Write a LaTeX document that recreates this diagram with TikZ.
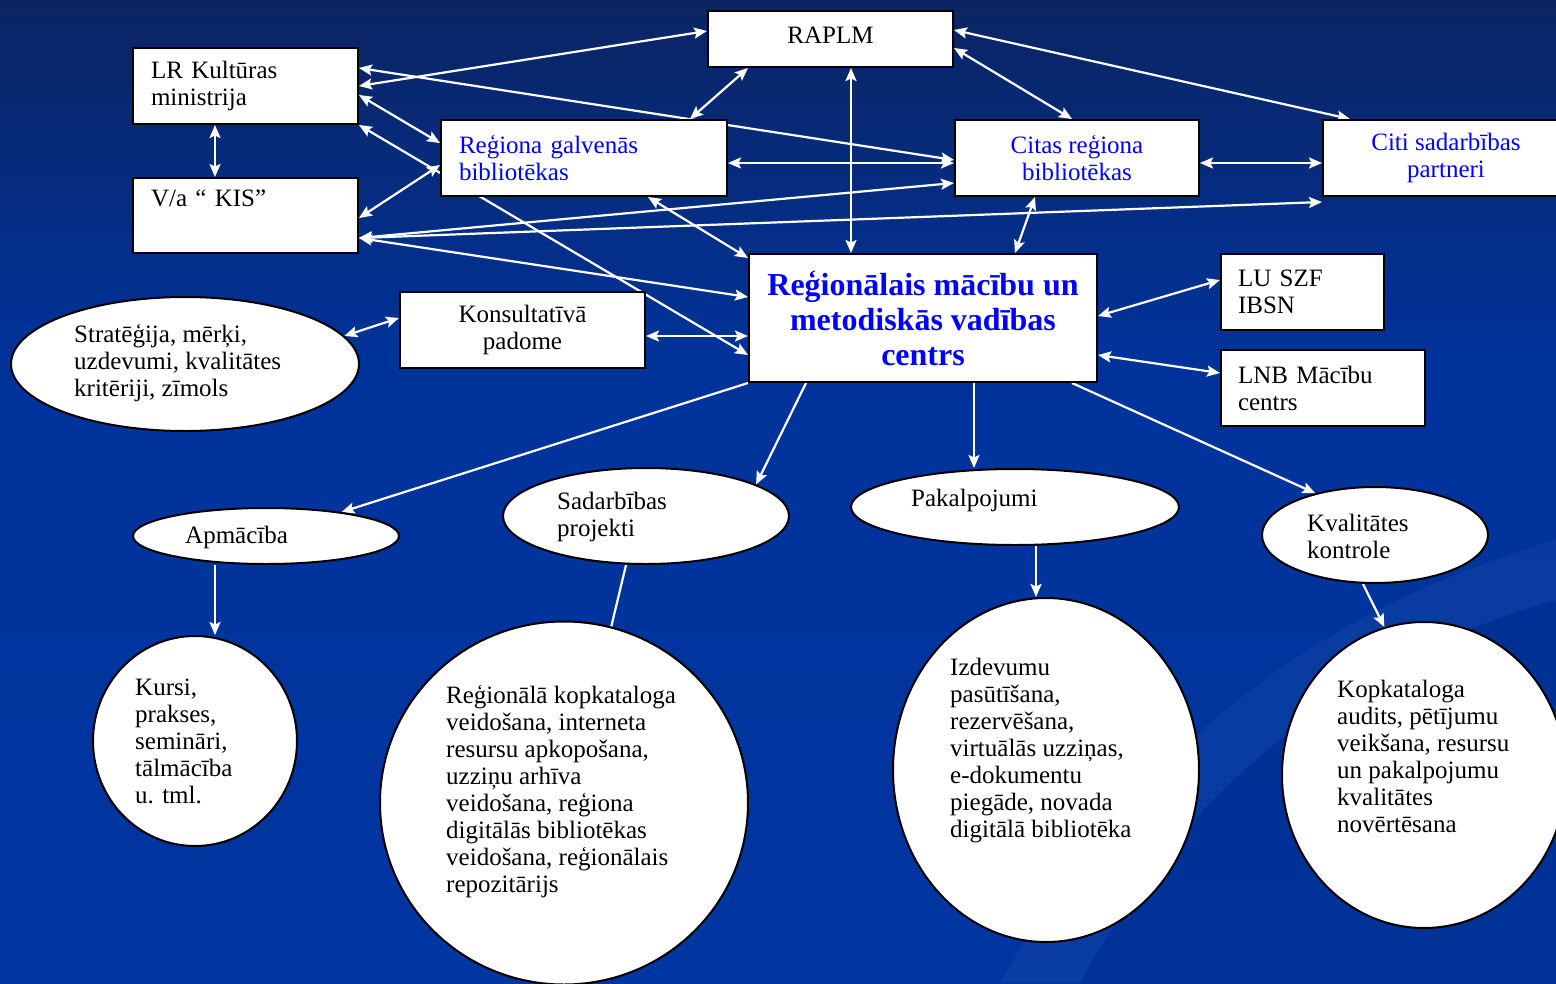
\documentclass[tikz,border=0pt]{standalone}
\usepackage{fontspec}
\setmainfont{Liberation Serif}
\usetikzlibrary{shapes.geometric,arrows.meta,calc}
\pgfdeclarelayer{back}
\pgfdeclarelayer{edges}
\pgfsetlayers{back,edges,main}
\definecolor{bgTop}{HTML}{0B2463}
\definecolor{bgMid}{HTML}{00339A}
\definecolor{bgBot}{HTML}{0036A2}
\definecolor{txtblue}{HTML}{0000FF}
\newcommand\myNorm{\fontsize{25}{27}\selectfont}
\newcommand\myBig{\fontsize{32}{35}\selectfont\bfseries}
\tikzset{
  box/.style={rectangle, draw=black, line width=2pt, fill=white, inner sep=0pt, font=\myNorm},
  lbox/.style={box, align=left, inner xsep=18pt},
  cbox/.style={box, align=center},
  oval/.style={ellipse, draw=black, line width=2pt, fill=white, inner sep=0pt},
  txt/.style={inner sep=0pt, align=left, anchor=west, font=\myNorm},
  con/.style={draw=white, line width=2.2pt},
  >={Stealth[length=13pt,width=11pt,inset=2.5pt]}
}
\begin{document}
\begin{tikzpicture}[x=1pt,y=-1pt]
\useasboundingbox (0,0) rectangle (1556,983);
\begin{pgfonlayer}{back}
  \shade[top color=bgTop, bottom color=bgMid] (0,0) rectangle (1556,360);
  \shade[top color=bgMid, bottom color=bgBot] (0,360) rectangle (1556,983);
  \fill[white, opacity=0.035] (1000,983) .. controls (1150,720) and (1350,600) .. (1556,540)
     -- (1556,600) .. controls (1380,650) and (1200,760) .. (1080,983) -- cycle;
  \fill[black, opacity=0.06] (1080,983) .. controls (1200,760) and (1380,650) .. (1556,600)
     -- (1556,983) -- cycle;
\end{pgfonlayer}

% rectangles
\node[cbox, minimum width=245pt, minimum height=56pt] (raplm) at (830.5,39) {\raisebox{8pt}{RAPLM}};
\node[lbox, minimum width=225pt, minimum height=76pt, text width=189pt] (lr) at (245.5,86) {LR Kultūras\\ministrija};
\node[lbox, minimum width=225pt, minimum height=75pt, text width=189pt] (kis) at (245.5,215.5) {V/a “ KIS”\\\strut};
\node[lbox, minimum width=286pt, minimum height=76pt, text width=250pt, text=txtblue] (rgb) at (584,158) {Reģiona galvenās\\bibliotēkas};
\node[cbox, minimum width=244pt, minimum height=76pt, text=txtblue] (citas) at (1077,158) {Citas reģiona\\bibliotēkas};
\node[cbox, minimum width=246pt, minimum height=76pt, text=txtblue] (citi) at (1446,158) {Citi sadarbības\\partneri};
\node[cbox, minimum width=348pt, minimum height=128pt, text=txtblue, font=\myBig] (rc) at (923,318) {Reģionālais mācību un\\metodiskās vadības\\centrs};
\node[lbox, minimum width=163pt, minimum height=76pt, text width=129pt, inner xsep=17pt] (lu) at (1302.5,292) {LU SZF\\IBSN};
\node[lbox, minimum width=204pt, minimum height=76pt, text width=170pt, inner xsep=17pt] (lnb) at (1323,388) {LNB Mācību\\centrs};
\node[cbox, minimum width=245pt, minimum height=76pt] (kons) at (522.5,330) {Konsultatīvā\\padome};

% ellipses
\node[oval, minimum width=348pt, minimum height=134pt] (strat) at (185,364) {};
\node[txt] (stratT) at (74,363) {Stratēģija, mērķi,\\uzdevumi, kvalitātes\\kritēriji, zīmols};
\node[oval, minimum width=266pt, minimum height=56pt] (apm) at (266,536) {};
\node[txt] (apmT) at (185,537) {Apmācība};
\node[oval, minimum width=286pt, minimum height=96pt] (sad) at (646,516) {};
\node[txt] (sadT) at (557,517) {Sadarbības\\projekti};
\node[oval, minimum width=328pt, minimum height=76pt] (pak) at (1015,507) {};
\node[txt] (pakT) at (911,500) {Pakalpojumi};
\node[oval, minimum width=226pt, minimum height=96pt] (kval) at (1375,535) {};
\node[txt] (kvalT) at (1307,536) {Kvalitātes\\kontrole};
\node[oval, minimum width=204pt, minimum height=210pt] (kursi) at (195,741) {};
\node[txt] (kursiT) at (135,741) {Kursi,\\prakses,\\semināri,\\tālmācība\\u. tml.};
\node[oval, minimum width=368pt, minimum height=363pt] (kat) at (564,803) {};
\node[txt] (katT) at (446,792) {Reģionālā kopkataloga\\veidošana, interneta\\resursu apkopošana,\\uzziņu arhīva\\veidošana, reģiona\\digitālās bibliotēkas\\veidošana, reģionālais\\repozitārijs};
\node[oval, minimum width=306pt, minimum height=344pt] (izd) at (1046,770) {};
\node[txt] (izdT) at (950,751) {Izdevumu\\pasūtīšana,\\rezervēšana,\\virtuālās uzziņas,\\e-dokumentu\\piegāde, novada\\digitālā bibliotēka};
\node[oval, minimum width=284pt, minimum height=306pt] (kop) at (1424,775) {};
\node[txt] (kopT) at (1337,756) {Kopkataloga\\audits, pētījumu\\veikšana, resursu\\un pakalpojumu\\kvalitātes\\novērtēsana};

\begin{pgfonlayer}{edges}
\draw[con,<->] (lr.east) -- ([yshift=8pt]raplm.west);
\draw[con,<->] ([yshift=18pt]lr.east) -- ([yshift=-2pt]citas.west);
\draw[con,<->] ([yshift=-9pt]lr.east) -- ([yshift=15pt]rgb.west);
\draw[con,<->] (lr.south east) -- ([yshift=-37pt]rc.west);
\draw[con,<->] ([yshift=-2.5pt]kis.east) -- ([yshift=-7pt]rgb.west);
\draw[con,<->] ([yshift=-22.5pt]kis.east) -- ([yshift=-25pt]citas.west);
\draw[con,<->] ([yshift=-22.5pt]kis.east) -- ([yshift=-5pt]citi.south west);
\draw[con,<->] ([yshift=-22.5pt]kis.east) -- ([yshift=21pt]rc.west);
\draw[con,<->] ([xshift=-30.5pt]lr.south) -- ([xshift=-30.5pt]kis.north);
\draw[con,<->] ([xshift=-82.5pt]raplm.south) -- ([xshift=106pt]rgb.north);
\draw[con,<->] ([xshift=20.5pt]raplm.south) -- ([xshift=-72pt]rc.north);
\draw[con,<->] ([yshift=-9pt]raplm.east) -- ([xshift=-5pt]citas.north);
\draw[con,<->] ([yshift=9pt]raplm.east) -- ([xshift=-96pt]citi.north);
\draw[con,<->] ([yshift=-5pt]rgb.east) -- ([yshift=-5pt]citas.west);
\draw[con,<->] ([yshift=-5pt]citas.east) -- ([yshift=-5pt]citi.west);
\draw[con,<->] ([xshift=64pt]rgb.south) -- ([yshift=60pt]rc.west);
\draw[con,<->] ([xshift=-42pt]citas.south) -- ([xshift=92pt]rc.north);
\draw[con,<->] ([yshift=2pt]rc.east) -- ([yshift=12pt]lu.west);
\draw[con,<->] ([yshift=-37pt]rc.east) -- ([yshift=15pt]lnb.west);
\draw[con,<->] ([yshift=-6pt]kons.east) -- ([yshift=-18pt]rc.west);
\draw[con,<->] (strat.10.6) -- ([yshift=12pt]kons.west);
\draw[con,->] (rc.south west) -- (apm);
\draw[con,->] ([xshift=-117pt]rc.south) -- (sad.16.7);
\draw[con,->] ([xshift=51pt]rc.south) -- ([xshift=51pt]rc.south |- pak.north);
\draw[con,->] ([xshift=149pt]rc.south) -- (kval.145.7);
\draw[con,->] ([xshift=-51pt]apm.south) -- ([xshift=-51pt]apm.south |- kursi.north);
\draw[con] ([xshift=-20pt]sad.south) -- (kat.75.7);
\draw[con,->] ([xshift=21pt]pak.south) -- ([xshift=21pt]pak.south |- izd.north);
\draw[con,->] ([xshift=-12pt]kval.south) -- (kop.105.6);
\end{pgfonlayer}
\end{tikzpicture}
\end{document}
